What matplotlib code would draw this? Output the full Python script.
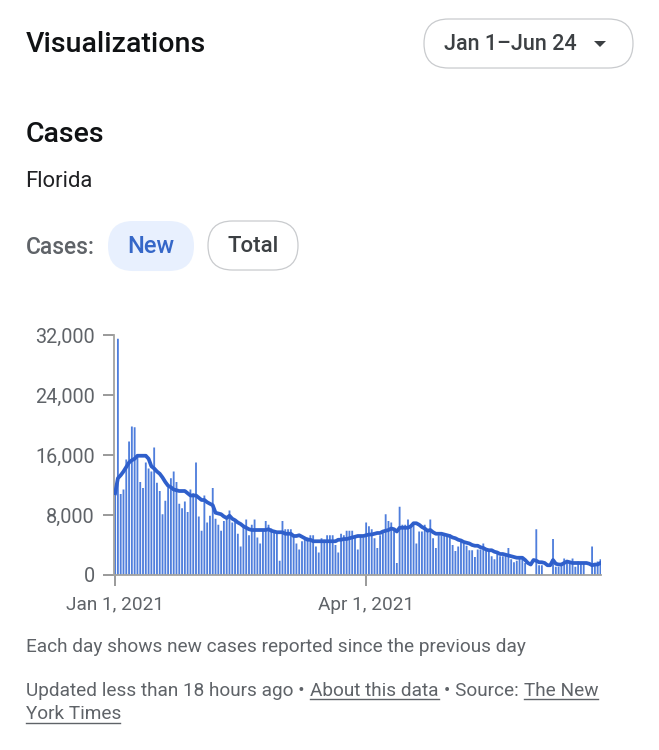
import matplotlib
matplotlib.use("Agg")
import matplotlib.pyplot as plt
from matplotlib.patches import FancyBboxPatch

plt.rcParams['font.family'] = ['Roboto', 'DejaVu Sans']

new_cases = [10900,31500,10800,11400,15400,17800,19800,19700,15800,12400,11600,15000,14200,13800,17000,12300,11200,8100,9900,11700,
12900,13800,12400,9500,8900,9800,8400,11400,10900,15000,7800,5900,10600,7000,7900,11600,7500,6700,5900,7200,
7500,8600,7000,7400,5500,3800,6400,7400,5300,6700,7400,5000,4200,6000,7200,6700,6200,5800,5500,1900,
7200,6100,6100,6100,5100,4200,3400,4500,5000,5000,5300,5300,3800,3000,4900,4700,5300,5300,5300,4000,
3000,5500,5300,5900,5900,5900,5100,3400,5100,5000,7000,6500,6100,4900,3600,5300,5900,8100,7200,7000,
6200,1600,9100,6700,6700,7400,6400,6800,4200,5800,5800,6700,5800,7400,4900,3600,5300,5300,5300,5200,
5400,4000,3200,3800,4500,4200,3900,3300,3300,2400,3400,3400,4200,3200,3100,2500,2100,2800,2500,2500,
2600,3600,2100,1700,1900,2200,2200,1600,0,0,0,6100,1300,1300,0,0,0,4800,1100,1100,
1300,2200,2000,1600,2200,1100,1800,1500,1600,0,0,3800,1600,1800,2100]

avg_7day = [10900,12900,13300,13800,14400,15000,15300,15500,15900,15900,15900,15900,15500,14500,14200,13800,13500,13000,12400,11900,
11700,11400,11300,11200,11200,11200,10900,10600,10600,10600,10300,10000,10000,9700,9500,9300,8300,8200,8100,7800,
7600,7900,7500,7300,7000,6800,6500,6300,6100,6000,6000,6000,6000,6000,6000,6100,5900,5800,5700,5700,
5700,5500,5500,5500,5200,5200,5300,5100,4900,4700,4700,4500,4500,4500,4500,4500,4500,4500,4500,4500,
4700,4700,4800,4800,4900,5000,5100,5200,5200,5200,5300,5400,5400,5500,5600,5600,5800,5900,6000,6200,
6100,5800,6300,6300,6300,6300,6500,6900,6900,6700,6400,6200,5900,6000,5700,5500,5500,5500,5400,5300,
5200,5000,4900,4700,4600,4400,4300,4200,4000,3900,3900,3700,3600,3400,3300,3300,3100,3000,2800,2800,
2700,2600,2500,2400,2300,2300,2300,2000,1600,1400,2000,1900,1700,1700,1600,1300,1300,2000,1500,1400,
1400,1600,1800,1700,1600,1600,1600,1600,1600,1600,1500,1300,1400,1400,1600]

y_ticks = [0, 8000, 16000, 24000, 32000]
x_ticks = [0, 90]
x_tick_labels = ["Jan 1, 2021", "Apr 1, 2021"]

W, H = 659, 750
fig = plt.figure(figsize=(W/100, H/100), dpi=100)

# chart axes
L, R, T, B = 114, 601, 335, 575
ax = fig.add_axes([L/W, 1-B/H, (R-L)/W, (B-T)/H])
days = list(range(len(new_cases)))
bars = ax.bar(days, new_cases, width=0.66, color='#4f7edc', linewidth=0, zorder=2)
for b in bars:
    b.set_snap(False)
ax.plot(days, avg_7day, color='#2f5fcb', lw=2.7, solid_joinstyle='round', zorder=3)
ax.set_xlim(-0.4, 174.2)
ax.set_ylim(0, 32000)
for s in ['top', 'right']:
    ax.spines[s].set_visible(False)
for s in ['left', 'bottom']:
    ax.spines[s].set_color('#a3a3a0')
    ax.spines[s].set_linewidth(1.3)
ax.set_yticks(y_ticks)
ax.set_yticklabels([f"{v:,}" for v in y_ticks])
ax.set_xticks(x_ticks)
ax.set_xticklabels(x_tick_labels)
ax.tick_params(axis='y', length=8, width=1.1, color='#7f7f7f', labelcolor='#5f6368', labelsize=14.3, pad=6)
ax.tick_params(axis='x', length=8, width=1.1, color='#7f7f7f', labelcolor='#5f6368', labelsize=13.7, pad=7)

# page furniture, in pixel coordinates
ui = fig.add_axes([0, 0, 1, 1], zorder=-1)
ui.set_xlim(0, W)
ui.set_ylim(H, 0)
ui.axis('off')

def chip(x0, y0, x1, y1, fc, ec):
    r = (y1-y0)/2
    ui.add_patch(FancyBboxPatch((x0+r, y0+r), x1-x0-2*r, 0.01,
                                boxstyle=f"round,pad={r},rounding_size={r}",
                                fc=fc, ec=ec, lw=0.9))

chip(424, 19, 633, 68, 'white', '#c9cbce')
chip(108, 221, 194, 271, '#e8f0fe', 'none')
chip(208, 221, 298, 270, 'white', '#c9cbce')

ink = '#101214'
grey = '#5f6368'
dark = '#3c4043'
def t(x, y, s, size, color, weight='normal', ha='left'):
    return ui.text(x, y, s, fontsize=size, color=color, fontweight=weight, ha=ha, va='center')

t(26, 45, "Visualizations", 20.5, ink, 'medium')
t(510.5, 44.5, "Jan 1–Jun 24", 15.5, dark, 'medium', ha='center')
ui.fill([594, 606, 600], [41, 41, 47], color='#3c4043', lw=0)
t(26, 135, "Cases", 20.5, ink, 'medium')
t(25.5, 181.5, "Florida", 15.8, '#202124')
t(26, 247, "Cases:", 16.4, grey, 'medium')
t(151, 246.5, "New", 17.0, '#3567c8', 'medium', ha='center')
t(253, 246.5, "Total", 16.0, dark, 'medium', ha='center')
t(26, 647, "Each day shows new cases reported since the previous day", 13.7, grey)

t(26, 691, "Updated less than 18 hours ago •", 13.7, grey)
t(310, 691, "About this data", 13.7, grey)
ui.plot([310, 439], [699, 699], color=grey, lw=1)
t(444, 691, "• Source:", 13.7, grey)
t(524, 691, "The New", 13.7, grey)
ui.plot([524, 598], [699, 699], color=grey, lw=1)
t(26, 714, "York Times", 13.7, grey)
ui.plot([26, 120], [723, 723], color=grey, lw=1)

fig.savefig("out.png", dpi=100, facecolor='white')
